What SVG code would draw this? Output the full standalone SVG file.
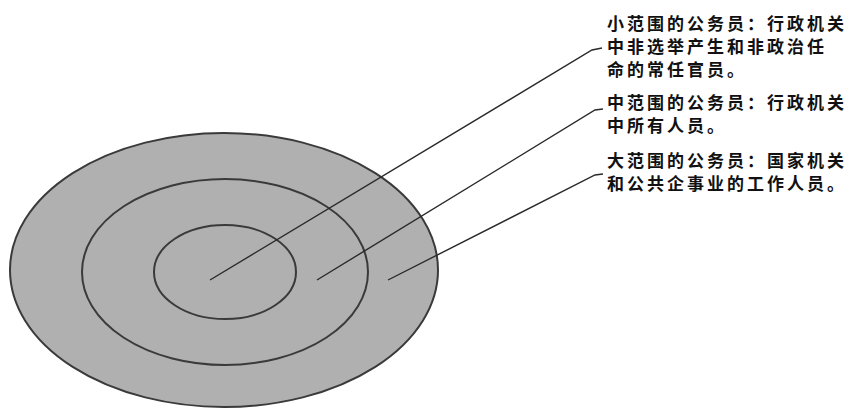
<svg xmlns="http://www.w3.org/2000/svg" width="851" height="410" viewBox="0 0 851 410">
<style>
.ring{fill:none;stroke:#3a3a3a;stroke-width:2}
.lead{fill:none;stroke:#2a2a2a;stroke-width:1.4}
.lbl{font-family:"Noto Sans CJK SC","Noto Sans CJK JP",sans-serif;font-size:17px;font-weight:bold;fill:#111;letter-spacing:3px}
</style>
<rect width="851" height="410" fill="#ffffff"/>
<g id="outer"><ellipse cx="224" cy="270" rx="214" ry="137" class="ring" style="fill:#b0b0b0"/></g>
<g id="middle"><ellipse cx="225" cy="272" rx="143" ry="93" class="ring"/></g>
<g id="inner"><ellipse cx="225" cy="272" rx="71" ry="47" class="ring"/></g>
<g id="connectors">
<polyline class="lead" points="210,280 592,50 602,48"/>
<polyline class="lead" points="317,280 595,110 603,109"/>
<polyline class="lead" points="388,280 595,175 603,174"/>
</g>
<g id="label-small">
<text class="lbl" x="607" y="30">小范围的公务员：行政机关</text>
<text class="lbl" x="607" y="53">中非选举产生和非政治任</text>
<text class="lbl" x="607" y="76">命的常任官员。</text>
</g>
<g id="label-medium">
<text class="lbl" x="607" y="109">中范围的公务员：行政机关</text>
<text class="lbl" x="607" y="132">中所有人员。</text>
</g>
<g id="label-large">
<text class="lbl" x="607" y="167">大范围的公务员：国家机关</text>
<text class="lbl" x="607" y="190">和公共企事业的工作人员。</text>
</g>
</svg>
